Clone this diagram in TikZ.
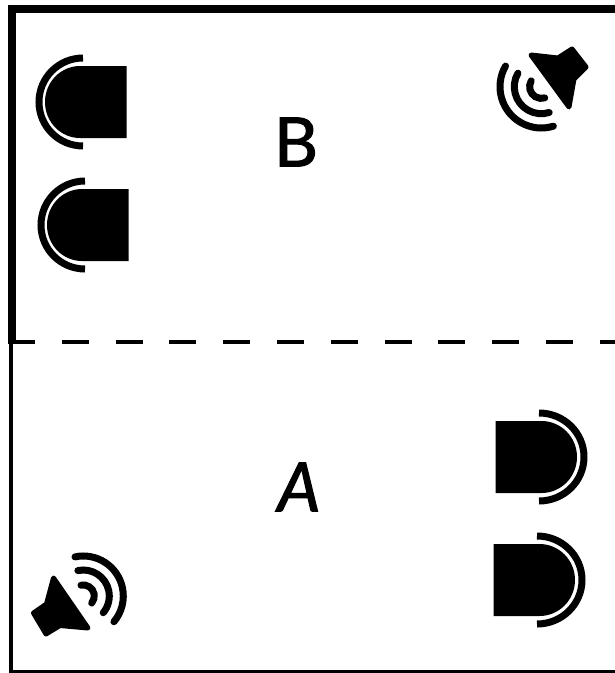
\documentclass[tikz,border=0pt]{standalone}
\usepackage{fontspec}
\setmainfont{Lato}
\newfontfamily\roomfont[FakeBold=1.6]{Lato}
\tikzset{
    wall/.style={line width=8pt},
    thinwall/.style={line width=3.7pt},
    bottomwall/.style={line width=3pt},
    divider/.style={line width=4.5pt, dash pattern=on 27pt off 26.8pt},
    sensorbody/.style={fill=black},
    sensorarc/.style={line width=7pt},
    cone/.style={fill=black, draw=black, line width=5pt, line join=round},
    wave/.style={line width=7pt, line cap=round},
    roomlabel/.style={font=\roomfont\fontsize{68}{68}\selectfont}
}
\begin{document}
\begin{tikzpicture}[x=1pt,y=-1pt]
    \useasboundingbox (0,0) rectangle (615,673);

    % room outline
    \draw[wall] (615,8.5) -- (12,8.5) -- (12,342);
    \draw[thinwall] (11,340) -- (11,671);
    \draw[bottomwall] (9,671) -- (615,671);
    \draw[divider] (8,342) -- (615,342);

    % left facing sensors
    \foreach \n/\cx/\cy in {1/80/102, 2/82/225}{
        \fill[sensorbody] (\cx,\cy-36) -- (\cx+46.5,\cy-36) -- (\cx+46.5,\cy+36) -- (\cx,\cy+36)
            arc[start angle=90, end angle=270, x radius=35, y radius=36] -- cycle;
        \draw[sensorarc] (\cx+3,\cy-44) arc[start angle=270, end angle=90, radius=44];
    }
    % right facing sensors
    \foreach \n/\cx/\cy in {3/541.5/457, 4/539.5/580}{
        \fill[sensorbody] (\cx,\cy-36) -- (\cx-46,\cy-36) -- (\cx-46,\cy+36) -- (\cx,\cy+36)
            arc[start angle=90, end angle=-90, x radius=35.5, y radius=36] -- cycle;
        \draw[sensorarc] (\cx-2.5,\cy-44) arc[start angle=-90, end angle=90, x radius=45, y radius=44];
    }

    % upper speaker
    \draw[cone] (531,55) -- (558,58) -- (572,49) -- (586,67) -- (574,79) -- (569,107) -- cycle;
    \foreach \r in {11.7, 27, 41.3}{
        \draw[wave] ({541.3+\r*cos(210)},{86.7+\r*sin(210)}) arc[start angle=210, end angle=73, radius=\r];
    }

    % lower speaker
    \draw[cone] (53.5,578) -- (88,628) -- (60,625.5) -- (46,634) -- (33.5,613) -- (46.5,604) -- cycle;
    \foreach \r in {11, 26, 40}{
        \draw[wave] ({83.3+\r*cos(-102)},{596+\r*sin(-102)}) arc[start angle=-102, end angle=40, radius=\r];
    }

    \node[roomlabel] (labelB) at (296,142) {B};
    \node[roomlabel, font=\roomfont\fontsize{68}{68}\selectfont\itshape] (labelA) at (299,487) {A};
\end{tikzpicture}
\end{document}
